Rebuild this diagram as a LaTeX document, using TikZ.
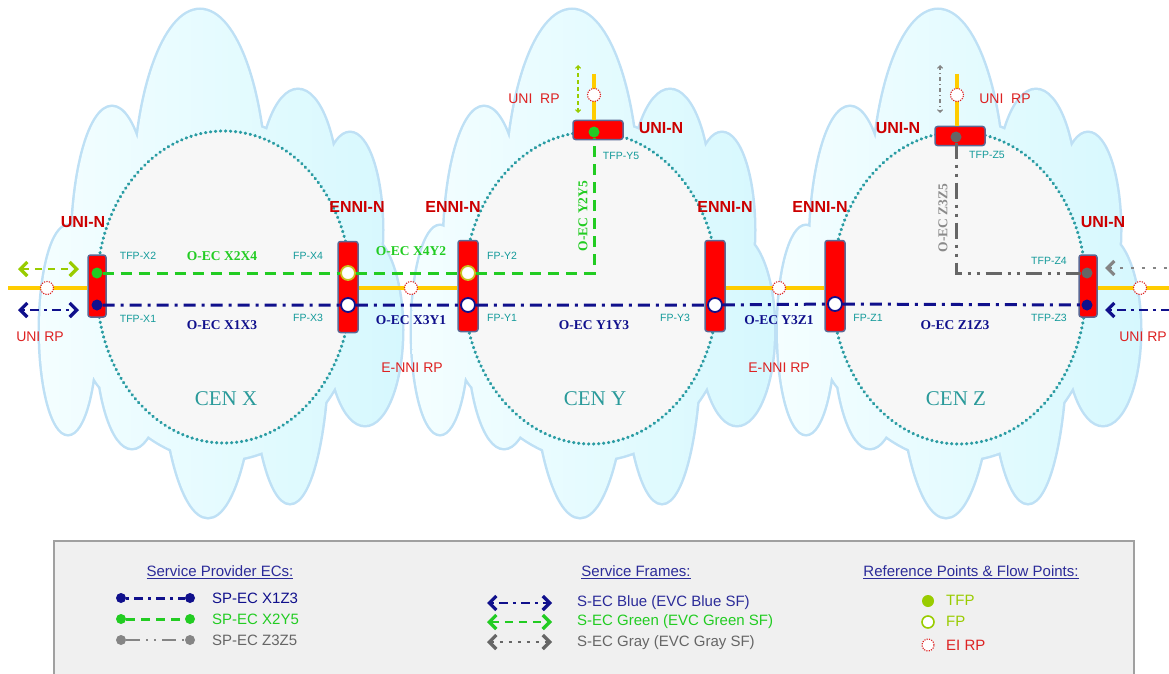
\documentclass[tikz,border=0pt]{standalone}
\usepackage{fontspec}
\setmainfont{Liberation Sans}
\newfontfamily\ecfont{Liberation Serif}
\usetikzlibrary{arrows.meta}

\definecolor{cloudEdge}{HTML}{BEE0F5}
\definecolor{cloudLeft}{HTML}{F4FEFF}
\definecolor{cloudRight}{HTML}{D6F8FE}
\definecolor{cenFill}{HTML}{F7F7F7}
\definecolor{cenEdge}{HTML}{2A9CA3}
\definecolor{cenText}{HTML}{2A9A9A}
\definecolor{neRed}{HTML}{FF0000}
\definecolor{neEdge}{HTML}{5B6894}
\definecolor{labelRed}{HTML}{CC0000}
\definecolor{rpRed}{HTML}{DD2222}
\definecolor{fpTeal}{HTML}{139A9A}
\definecolor{fpOlive}{HTML}{C9C21E}
\definecolor{uniYellow}{HTML}{FFCC00}
\definecolor{ecGreen}{HTML}{22CC22}
\definecolor{ecBlue}{HTML}{10108C}
\definecolor{ecGray}{HTML}{666666}
\definecolor{oecGrayText}{HTML}{8A8A8A}
\definecolor{sfLime}{HTML}{99CC00}
\definecolor{sfBlueText}{HTML}{2B2B99}
\definecolor{legendFill}{HTML}{F0F0F0}
\definecolor{legendEdge}{HTML}{A0A0A0}

\begin{document}
\begin{tikzpicture}[x=1pt, y=-1pt,
	nebox/.style 2 args={draw=neEdge, line width=1.5pt, fill=neRed, rounded corners=2.5pt, inner sep=0pt, minimum width=#1, minimum height=#2},
	tfpdot/.style={circle, inner sep=0pt, minimum size=11pt, fill=#1},
	fpring/.style={circle, inner sep=0pt, minimum size=14pt, fill=white, draw=#1, line width=1.8pt},
	rpring/.style={circle, inner sep=0pt, minimum size=13pt, fill=white, draw=rpRed, line width=1.1pt, dash pattern=on 1.2pt off 1.2pt},
	uniline/.style={uniYellow, line width=4pt},
	oecgreen/.style={ecGreen, line width=3pt, dash pattern=on 11pt off 7pt},
	oecblue/.style={ecBlue, line width=3pt, dash pattern=on 12pt off 6pt on 3pt off 6pt},
	oecgray/.style={ecGray, line width=3pt, dash pattern=on 16pt off 6pt on 3pt off 6pt on 3pt off 6pt},
	barb/.style={{Straight Barb[length=7pt,width=14pt,line width=3.2pt]}-{Straight Barb[length=7pt,width=14pt,line width=3.2pt]}, line width=2.6pt},
	minibarb/.style={{Straight Barb[length=2.5pt,width=5pt]}-{Straight Barb[length=2.5pt,width=5pt]}, line width=1.2pt},
	nelabel/.style={text=labelRed, font=\bfseries\fontsize{16}{16}\selectfont, inner sep=0pt},
	rplabel/.style={text=rpRed, font=\fontsize{14}{14}\selectfont, inner sep=0pt},
	fplabel/.style={text=fpTeal, font=\fontsize{10.5}{10.5}\selectfont, inner sep=0pt},
	oeclabel/.style={text=#1, font=\ecfont\bfseries\fontsize{13.5}{13.5}\selectfont, inner sep=0pt},
	cenlabel/.style={text=cenText, font=\ecfont\fontsize{21}{21}\selectfont, inner sep=0pt},
	legendhead/.style={text=sfBlueText, font=\fontsize{15}{15}\selectfont, inner sep=0pt},
	legendtext/.style={text=#1, font=\fontsize{15}{15}\selectfont, inner sep=0pt, anchor=west},
]

	% page, 1 unit = 1 px of the reference
	\useasboundingbox (0,0) rectangle (1169,674);
	\clip (0,0) rectangle (1169,674);

	% clouds: lobes of cloud X, shifted for Y and Z
	\def \cloudlobes {200/200/66/190, 298/200/40/110, 350/230/32/97, 365/330/37/95, 208/330/48/187, 290/340/38/163, 132/330/36/118, 68/330/28/104, 112/250/40/143, 220/290/140/170};
	\foreach \dx in {0, 372, 738} {
		\draw [cloudEdge, line width=5pt] foreach \cx/\cy/\rx/\ry in \cloudlobes {(\cx+\dx, \cy) ellipse [x radius=\rx, y radius=\ry]};
		\shade [left color=cloudLeft, right color=cloudRight] foreach \cx/\cy/\rx/\ry in \cloudlobes {(\cx+\dx, \cy) ellipse [x radius=\rx, y radius=\ry]};
	}

	% the three CENs
	\coordinate (cenX) at (224,287);
	\coordinate (cenY) at (591,288);
	\coordinate (cenZ) at (959,288);
	\foreach \c in {cenX, cenY, cenZ}
		\draw [cenEdge, fill=cenFill, line width=3.2pt, dash pattern=on 0.4pt off 4.6pt, line cap=round] (\c) ellipse [x radius=127, y radius=156];
	\node [cenlabel] (cenXlbl) at (226,399) {CEN X};
	\node [cenlabel] (cenYlbl) at (595,399) {CEN Y};
	\node [cenlabel] (cenZlbl) at (956,399) {CEN Z};

	% network elements
	\node [nebox={18pt}{62pt}] (uniX) at (97,286) {};
	\node [nebox={20pt}{91pt}] (enniX) at (348,287) {};
	\node [nebox={20pt}{91pt}] (enniYw) at (468,286) {};
	\node [nebox={20pt}{91pt}] (enniYe) at (715,286) {};
	\node [nebox={20pt}{91pt}] (enniZ) at (835,286) {};
	\node [nebox={18pt}{62pt}] (uniZe) at (1088,286) {};
	\node [nebox={50pt}{19pt}] (uniYn) at (598,130) {};
	\node [nebox={50pt}{19pt}] (uniZn) at (960,136) {};

	% UNI and E-NNI links
	\coordinate (uniEndL) at (8,288);
	\coordinate (uniEndR) at (1169,288);
	\coordinate (uniEndY) at (594,74);
	\coordinate (uniEndZ) at (957,74);
	\draw [uniline] (uniEndL) -- (uniEndL -| uniX.west);
	\draw [uniline] (enniX.east |- uniEndL) -- (enniYw.west |- uniEndL);
	\draw [uniline] (enniYe.east |- uniEndL) -- (enniZ.west |- uniEndL);
	\draw [uniline] (uniZe.east |- uniEndR) -- (uniEndR);
	\draw [uniline] (uniEndY) -- (uniEndY |- uniYn.north);
	\draw [uniline] (uniEndZ) -- (uniEndZ |- uniZn.north);

	% EI reference points
	\node [rpring] (rpL) at (47,288) {};
	\node [rpring] (rpXY) at (411,288) {};
	\node [rpring] (rpYZ) at (779,288) {};
	\node [rpring] (rpR) at (1140,288) {};
	\node [rpring] (rpYn) at (594,95) {};
	\node [rpring] (rpZn) at (957,95) {};

	% flow points
	\node [tfpdot=ecGreen] (tfpX2) at (97,273) {};
	\node [tfpdot=ecBlue] (tfpX1) at (97,305) {};
	\node [fpring=fpOlive] (fpX4) at (348,273) {};
	\node [fpring=ecBlue] (fpX3) at (348,305) {};
	\node [fpring=fpOlive] (fpY2) at (468,273) {};
	\node [fpring=ecBlue] (fpY1) at (468,305) {};
	\node [fpring=ecBlue] (fpY3) at (715,305) {};
	\node [fpring=ecBlue] (fpZ1) at (835,304) {};
	\node [tfpdot=ecGreen] (tfpY5) at (594,132) {};
	\node [tfpdot=ecGray] (tfpZ5) at (956,137) {};
	\node [tfpdot=ecGray] (tfpZ4) at (1087,273) {};
	\node [tfpdot=ecBlue] (tfpZ3) at (1087,305) {};

	% O-ECs
	\draw [oecgreen] (tfpX2) -- (fpX4) -- (fpY2) -| (tfpY5);
	\draw [oecblue] (tfpX1) -- (fpX3) -- (fpY1) -- (fpY3) -- (fpZ1) -- (tfpZ3);
	\draw [oecgray] (tfpZ5) |- (tfpZ4);

	% service frames at the UNIs
	\coordinate (sfLgA) at (18,269);
	\coordinate (sfLgB) at (79,269);
	\coordinate (sfLbA) at (18,310);
	\coordinate (sfLbB) at (79,310);
	\coordinate (sfRgA) at (1105,268);
	\coordinate (sfRgB) at (1180,268);
	\coordinate (sfRbA) at (1105,310);
	\coordinate (sfRbB) at (1180,310);
	\coordinate (sfYA) at (578,65);
	\coordinate (sfYB) at (578,113);
	\coordinate (sfZA) at (940,65);
	\coordinate (sfZB) at (940,113);
	\draw [barb, sfLime, dash pattern=on 7pt off 6pt] (sfLgA) -- (sfLgB);
	\draw [barb, ecBlue, dash pattern=on 3pt off 5pt on 9pt off 5pt] (sfLbA) -- (sfLbB);
	\draw [barb, ecGray!80, line width=2pt, dash pattern=on 3pt off 8pt] (sfRgA) -- (sfRgB);
	\draw [barb, ecBlue, dash pattern=on 3pt off 5pt on 9pt off 5pt] (sfRbA) -- (sfRbB);
	\draw [minibarb, sfLime, dash pattern=on 4pt off 3pt] (sfYA) -- (sfYB);
	\draw [minibarb, ecGray!80, dash pattern=on 4pt off 3pt on 1pt off 3pt] (sfZA) -- (sfZB);

	% element labels
	\node [nelabel] (uniXlbl) at (83,222) {UNI-N};
	\node [nelabel] (enniXlbl) at (357,207) {ENNI-N};
	\node [nelabel] (enniYwlbl) at (453,207) {ENNI-N};
	\node [nelabel] (enniYelbl) at (725,207) {ENNI-N};
	\node [nelabel] (enniZlbl) at (820,207) {ENNI-N};
	\node [nelabel] (uniZelbl) at (1103,222) {UNI-N};
	\node [nelabel] (uniYnlbl) at (661,128) {UNI-N};
	\node [nelabel] (uniZnlbl) at (898,128) {UNI-N};

	% reference point labels
	\node [rplabel] (rpLlbl) at (40,337) {UNI RP};
	\node [rplabel, anchor=east] (rpRlbl) at (1167,337) {UNI RP};
	\node [rplabel] (rpYnlbl) at (534,99) {UNI\ \ RP};
	\node [rplabel] (rpZnlbl) at (1005,99) {UNI\ \ RP};
	\node [rplabel] (rpXYlbl) at (412,368) {E-NNI RP};
	\node [rplabel] (rpYZlbl) at (779,368) {E-NNI RP};

	% flow point labels
	\node [fplabel] (tfpX2lbl) at (138,256) {TFP-X2};
	\node [fplabel] (tfpX1lbl) at (138,319) {TFP-X1};
	\node [fplabel] (fpX4lbl) at (308,256) {FP-X4};
	\node [fplabel] (fpX3lbl) at (308,318) {FP-X3};
	\node [fplabel] (fpY2lbl) at (502,256) {FP-Y2};
	\node [fplabel] (fpY1lbl) at (502,318) {FP-Y1};
	\node [fplabel] (fpY3lbl) at (675,318) {FP-Y3};
	\node [fplabel] (fpZ1lbl) at (868,318) {FP-Z1};
	\node [fplabel] (tfpY5lbl) at (621,156) {TFP-Y5};
	\node [fplabel] (tfpZ5lbl) at (987,155) {TFP-Z5};
	\node [fplabel] (tfpZ4lbl) at (1049,261) {TFP-Z4};
	\node [fplabel] (tfpZ3lbl) at (1049,318) {TFP-Z3};

	% O-EC labels
	\node [oeclabel=ecGreen] (oecX2X4) at (222,256) {O-EC X2X4};
	\node [oeclabel=ecGreen] (oecX4Y2) at (411,251) {O-EC X4Y2};
	\node [oeclabel=ecGreen, rotate=90] (oecY2Y5) at (583,216) {O-EC Y2Y5};
	\node [oeclabel=ecBlue] (oecX1X3) at (222,325) {O-EC X1X3};
	\node [oeclabel=ecBlue] (oecX3Y1) at (411,320) {O-EC X3Y1};
	\node [oeclabel=ecBlue] (oecY1Y3) at (594,325) {O-EC Y1Y3};
	\node [oeclabel=ecBlue] (oecY3Z1) at (779,320) {O-EC Y3Z1};
	\node [oeclabel=ecBlue] (oecZ1Z3) at (955,325) {O-EC Z1Z3};
	\node [oeclabel=oecGrayText, rotate=90] (oecZ3Z5) at (943,218) {O-EC Z3Z5};

	% legend
	\draw [legendEdge, fill=legendFill, line width=1.5pt] (54,541) rectangle (1134,690);
	\node [legendhead] (hdSP) at (220,572) {\underline{Service Provider ECs:}};
	\node [legendhead] (hdSF) at (636,572) {\underline{Service Frames:}};
	\node [legendhead] (hdRP) at (971,572) {\underline{Reference Points \& Flow Points:}};

	% legend: service provider ECs
	\node [tfpdot=ecBlue, minimum size=10pt] (lgBa) at (121,598) {};
	\node [tfpdot=ecBlue, minimum size=10pt] (lgBb) at (190,598) {};
	\node [tfpdot=ecGreen, minimum size=10pt] (lgGa) at (121,619) {};
	\node [tfpdot=ecGreen, minimum size=10pt] (lgGb) at (190,619) {};
	\node [tfpdot=ecGray!80, minimum size=10pt] (lgYa) at (121,640) {};
	\node [tfpdot=ecGray!80, minimum size=10pt] (lgYb) at (190,640) {};
	\draw [oecblue, dash pattern=on 3pt off 5pt on 9pt off 5pt] (lgBa) -- (lgBb);
	\draw [oecgreen, dash pattern=on 9pt off 6pt] (lgGa) -- (lgGb);
	\draw [ecGray!80, line width=2pt, dash pattern=on 14pt off 6pt on 2pt off 6pt on 2pt off 6pt] (lgYa) -- (lgYb);
	\node [legendtext=ecBlue] (lgBt) at (212,598) {SP-EC X1Z3};
	\node [legendtext=ecGreen] (lgGt) at (212,619) {SP-EC X2Y5};
	\node [legendtext=ecGray] (lgYt) at (212,640) {SP-EC Z3Z5};

	% legend: service frames
	\coordinate (lgSbA) at (487,603);
	\coordinate (lgSbB) at (552,603);
	\coordinate (lgSgA) at (487,622);
	\coordinate (lgSgB) at (552,622);
	\coordinate (lgSyA) at (487,642);
	\coordinate (lgSyB) at (552,642);
	\draw [barb, ecBlue, dash pattern=on 3pt off 5pt on 9pt off 5pt] (lgSbA) -- (lgSbB);
	\draw [barb, ecGreen, dash pattern=on 8pt off 6pt] (lgSgA) -- (lgSgB);
	\draw [barb, ecGray, dash pattern=on 3pt off 6pt] (lgSyA) -- (lgSyB);
	\node [legendtext=sfBlueText] (lgSbt) at (577,603) {S-EC Blue (EVC Blue SF)};
	\node [legendtext=ecGreen] (lgSgt) at (577,622) {S-EC Green (EVC Green SF)};
	\node [legendtext=ecGray] (lgSyt) at (577,643) {S-EC Gray (EVC Gray SF)};

	% legend: reference points and flow points
	\node [tfpdot=sfLime, minimum size=12pt] (lgTfp) at (928,601) {};
	\node [fpring=sfLime, minimum size=12pt, line width=1.6pt] (lgFp) at (928,622) {};
	\node [rpring, minimum size=12pt] (lgRp) at (928,645) {};
	\node [legendtext=sfLime] (lgTfpt) at (946,600) {TFP};
	\node [legendtext=sfLime] (lgFpt) at (946,621) {FP};
	\node [legendtext=rpRed] (lgRpt) at (946,645) {EI RP};

\end{tikzpicture}
\end{document}
